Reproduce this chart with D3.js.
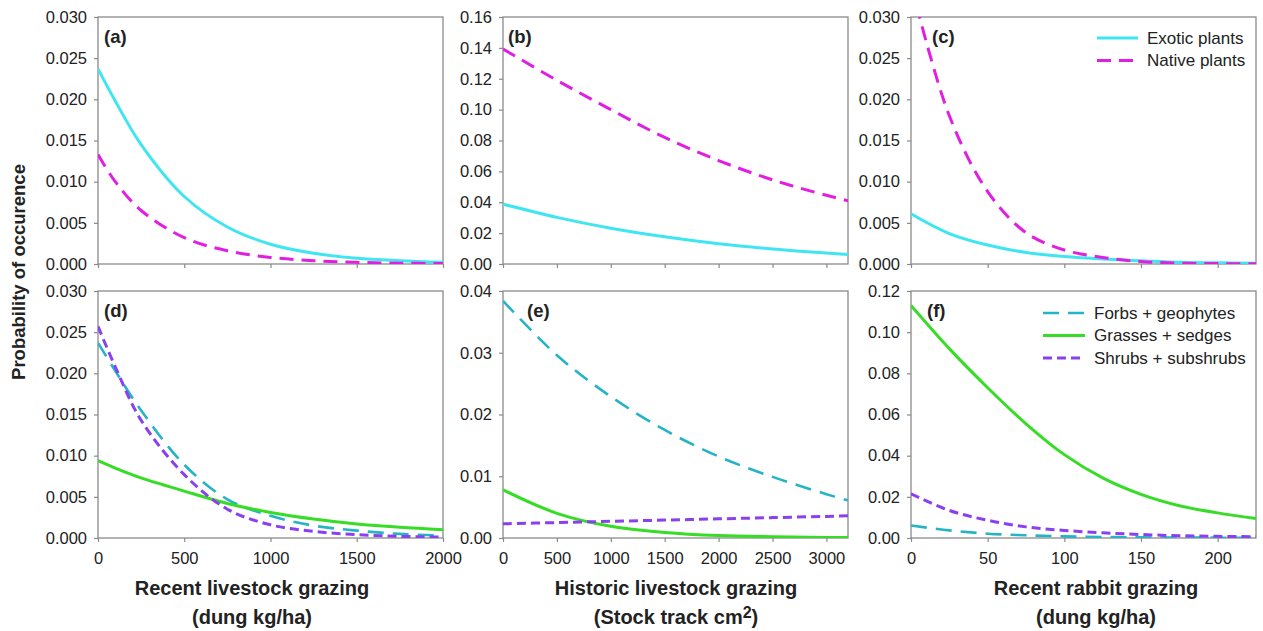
<!DOCTYPE html>
<html>
<head>
<meta charset="utf-8">
<script src="https://cdn.jsdelivr.net/npm/d3@7"></script>
<style>
  body { margin: 0; background: #fff; }
  svg { font-family: "Liberation Sans", Arial, sans-serif; }
</style>
</head>
<body>
<svg width="1263" height="631"></svg>
<script>
const livestockX = [0, 100, 250, 500, 750, 1000, 1250, 1500, 1750, 2000];
const historicX = [0, 500, 1000, 1500, 2000, 2500, 3000, 3200];
const rabbitX = [0, 25, 50, 75, 100, 125, 150, 175, 200, 225];

// (a) recent livestock, exotic / native
const exoticA = [0.0237, 0.0198, 0.0145, 0.0082, 0.0045, 0.0024, 0.0013, 0.0007, 0.0004, 0.0002];
const nativeA = [0.0133, 0.0100, 0.0065, 0.0032, 0.0016, 0.0008, 0.0004, 0.0002, 0.0001, 0.00005];
// (b) historic livestock
const exoticB = [0.0388, 0.0302, 0.0232, 0.0176, 0.0131, 0.0097, 0.0071, 0.0062];
const nativeB = [0.1393, 0.1190, 0.1000, 0.0820, 0.0670, 0.0545, 0.0445, 0.0410];
// (c) recent rabbit
const exoticC = [0.0061, 0.0037, 0.0023, 0.0014, 0.0009, 0.0006, 0.0004, 0.0002, 0.00015, 0.0001];
const nativeC = [0.0340, 0.0180, 0.0088, 0.0038, 0.0017, 0.0008, 0.0003, 0.0001, 0.00005, 0.00002];

// (d) recent livestock, growth forms
const forbsD = [0.0237, 0.0203, 0.0155, 0.0089, 0.0047, 0.0027, 0.0015, 0.0009, 0.0005, 0.0003];
const grassD = [0.0094, 0.0085, 0.0073, 0.0057, 0.0042, 0.0031, 0.0023, 0.0017, 0.0013, 0.0010];
const shrubD = [0.0257, 0.0208, 0.0143, 0.0077, 0.0035, 0.0016, 0.0008, 0.0004, 0.0002, 0.0001];
// (e) historic livestock
const forbsE = [0.0384, 0.0296, 0.0229, 0.0175, 0.0132, 0.0099, 0.0071, 0.0061];
const grassE = [0.0078, 0.0040, 0.0019, 0.0009, 0.0004, 0.0002, 0.0001, 0.0001];
const shrubE = [0.0023, 0.0025, 0.0027, 0.0029, 0.0031, 0.0033, 0.0035, 0.0036];
// (f) recent rabbit
const forbsF = [0.0061, 0.0037, 0.0021, 0.0013, 0.0008, 0.0005, 0.0003, 0.0002, 0.00015, 0.0001];
const grassF = [0.1130, 0.0920, 0.0730, 0.0555, 0.0405, 0.0292, 0.0212, 0.0157, 0.0122, 0.0095];
const shrubF = [0.0215, 0.0134, 0.0086, 0.0054, 0.0037, 0.0025, 0.0017, 0.0011, 0.0008, 0.0006];

// tick values
const ticks030 = [0, 0.005, 0.010, 0.015, 0.020, 0.025, 0.030];
const ticks016 = [0, 0.02, 0.04, 0.06, 0.08, 0.10, 0.12, 0.14, 0.16];
const ticks004 = [0, 0.01, 0.02, 0.03, 0.04];
const ticks012 = [0, 0.02, 0.04, 0.06, 0.08, 0.10, 0.12];
const livestockTicks = [0, 500, 1000, 1500, 2000];
const historicTicks = [0, 500, 1000, 1500, 2000, 2500, 3000];
const rabbitTicks = [0, 50, 100, 150, 200];

// legends
const originNames = ["Exotic plants", "Native plants"];
const formNames = ["Forbs + geophytes", "Grasses + sedges", "Shrubs + subshrubs"];

// series styles
const styles = {
    exotic: {color: "#3fe6f2", width: 3, dash: null},
    native: {color: "#e01fe0", width: 3, dash: "14,8"},
    forbs: {color: "#25b4c6", width: 2.6, dash: "16,9"},
    grass: {color: "#36dc26", width: 3, dash: null},
    shrub: {color: "#8a40ee", width: 3, dash: "9,5"}
};

const svg = d3.select("svg");
const colLeft = [98, 503, 911];
const rowTop = [17, 291];
const pw = 345, ph = 247;

const panels = [
    {id: "a", row: 0, col: 0, x: livestockX, xmax: 2000, xt: livestockTicks, ymax: 0.03, yt: ticks030, fmt: ".3f",
        series: [["exotic", exoticA], ["native", nativeA]], lab: 6},
    {id: "b", row: 0, col: 1, x: historicX, xmax: 3200, xt: historicTicks, ymax: 0.16, yt: ticks016, fmt: ".2f",
        series: [["exotic", exoticB], ["native", nativeB]], lab: 5},
    {id: "c", row: 0, col: 2, x: rabbitX, xmax: 225, xt: rabbitTicks, ymax: 0.03, yt: ticks030, fmt: ".3f",
        series: [["exotic", exoticC], ["native", nativeC]], lab: 21},
    {id: "d", row: 1, col: 0, x: livestockX, xmax: 2000, xt: livestockTicks, ymax: 0.03, yt: ticks030, fmt: ".3f",
        series: [["forbs", forbsD], ["grass", grassD], ["shrub", shrubD]], lab: 6},
    {id: "e", row: 1, col: 1, x: historicX, xmax: 3200, xt: historicTicks, ymax: 0.04, yt: ticks004, fmt: ".2f",
        series: [["forbs", forbsE], ["grass", grassE], ["shrub", shrubE]], lab: 24},
    {id: "f", row: 1, col: 2, x: rabbitX, xmax: 225, xt: rabbitTicks, ymax: 0.12, yt: ticks012, fmt: ".2f",
        series: [["forbs", forbsF], ["grass", grassF], ["shrub", shrubF]], lab: 16}
];

const defs = svg.append("defs");

panels.forEach(function (p) {
    const left = colLeft[p.col], top = rowTop[p.row];
    const x = d3.scaleLinear().domain([0, p.xmax]).range([0, pw]);
    const y = d3.scaleLinear().domain([0, p.ymax]).range([ph, 0]);
    const g = svg.append("g").attr("transform", "translate(" + left + "," + top + ")");

    defs.append("clipPath").attr("id", "clip-" + p.id)
        .append("rect").attr("width", pw).attr("height", ph);

    // axes
    const yAxis = d3.axisLeft(y).tickValues(p.yt).tickSize(4).tickPadding(7)
        .tickFormat(d3.format(p.fmt));
    const xAxis = d3.axisBottom(x).tickValues(p.xt).tickSize(4).tickPadding(10)
        .tickFormat(p.row === 0 ? "" : d3.format("d"));

    const ya = g.append("g").call(yAxis);
    const xa = g.append("g").attr("transform", "translate(0," + ph + ")").call(xAxis);
    [ya, xa].forEach(function (a) {
        a.select(".domain").remove();
        a.selectAll("line").attr("stroke", "#8a8a8a").attr("stroke-width", 1.2);
        a.selectAll("text").attr("fill", "#222").style("font-size", "16.5px");
    });

    // frame
    g.append("rect").attr("width", pw).attr("height", ph)
        .attr("fill", "none").attr("stroke", "#8a8a8a").attr("stroke-width", 1.3);

    // curves
    const line = d3.line()
        .x(function (d) { return x(d[0]); })
        .y(function (d) { return y(d[1]); })
        .curve(d3.curveCatmullRom.alpha(0.5));

    g.append("g").attr("clip-path", "url(#clip-" + p.id + ")")
        .selectAll("path")
        .data(p.series)
        .enter()
        .append("path")
        .attr("fill", "none")
        .attr("stroke", function (s) { return styles[s[0]].color; })
        .attr("stroke-width", function (s) { return styles[s[0]].width; })
        .attr("stroke-dasharray", function (s) { return styles[s[0]].dash; })
        .attr("d", function (s) {
            return line(p.x.map(function (v, i) { return [v, s[1][i]]; }));
        });

    // panel letter
    g.append("text").attr("x", p.lab).attr("y", 26)
        .style("font-size", "18.5px").style("font-weight", "bold").attr("fill", "#222")
        .text("(" + p.id + ")");
});

// legends
function legend(names, keys, lx, ly, len) {
    const lg = svg.append("g");
    names.forEach(function (n, i) {
        const st = styles[keys[i]];
        lg.append("line")
            .attr("x1", lx).attr("x2", lx + len)
            .attr("y1", ly + i * 22.5).attr("y2", ly + i * 22.5)
            .attr("stroke", st.color).attr("stroke-width", st.width)
            .attr("stroke-dasharray", st.dash);
        lg.append("text")
            .attr("x", lx + len + 9).attr("y", ly + i * 22.5)
            .attr("dy", "0.35em")
            .style("font-size", "17px").attr("fill", "#222")
            .text(n);
    });
}
legend(originNames, ["exotic", "native"], 1097, 38, 41);
legend(formNames, ["forbs", "grass", "shrub"], 1043, 313, 42);

// axis titles
svg.append("text")
    .attr("transform", "translate(25,272) rotate(-90)")
    .attr("text-anchor", "middle")
    .style("font-size", "18.5px").style("font-weight", "bold").attr("fill", "#222")
    .text("Probability of occurence");

const xTitles = [
    {x: 252, l1: "Recent livestock grazing", l2: "(dung kg/ha)"},
    {x: 676, l1: "Historic livestock grazing", l2: "(Stock track cm"},
    {x: 1096, l1: "Recent rabbit grazing", l2: "(dung kg/ha)"}
];
xTitles.forEach(function (t, i) {
    const tt = svg.append("text").attr("text-anchor", "middle")
        .style("font-size", "20px").style("font-weight", "bold").attr("fill", "#222");
    tt.append("tspan").attr("x", t.x).attr("y", 595).text(t.l1);
    tt.append("tspan").attr("x", t.x).attr("y", 624).text(t.l2);
    if (i === 1) {
        tt.append("tspan").attr("dy", -6).style("font-size", "16px").text("2");
        tt.append("tspan").attr("dy", 6).text(")");
    }
});
</script>
</body>
</html>
